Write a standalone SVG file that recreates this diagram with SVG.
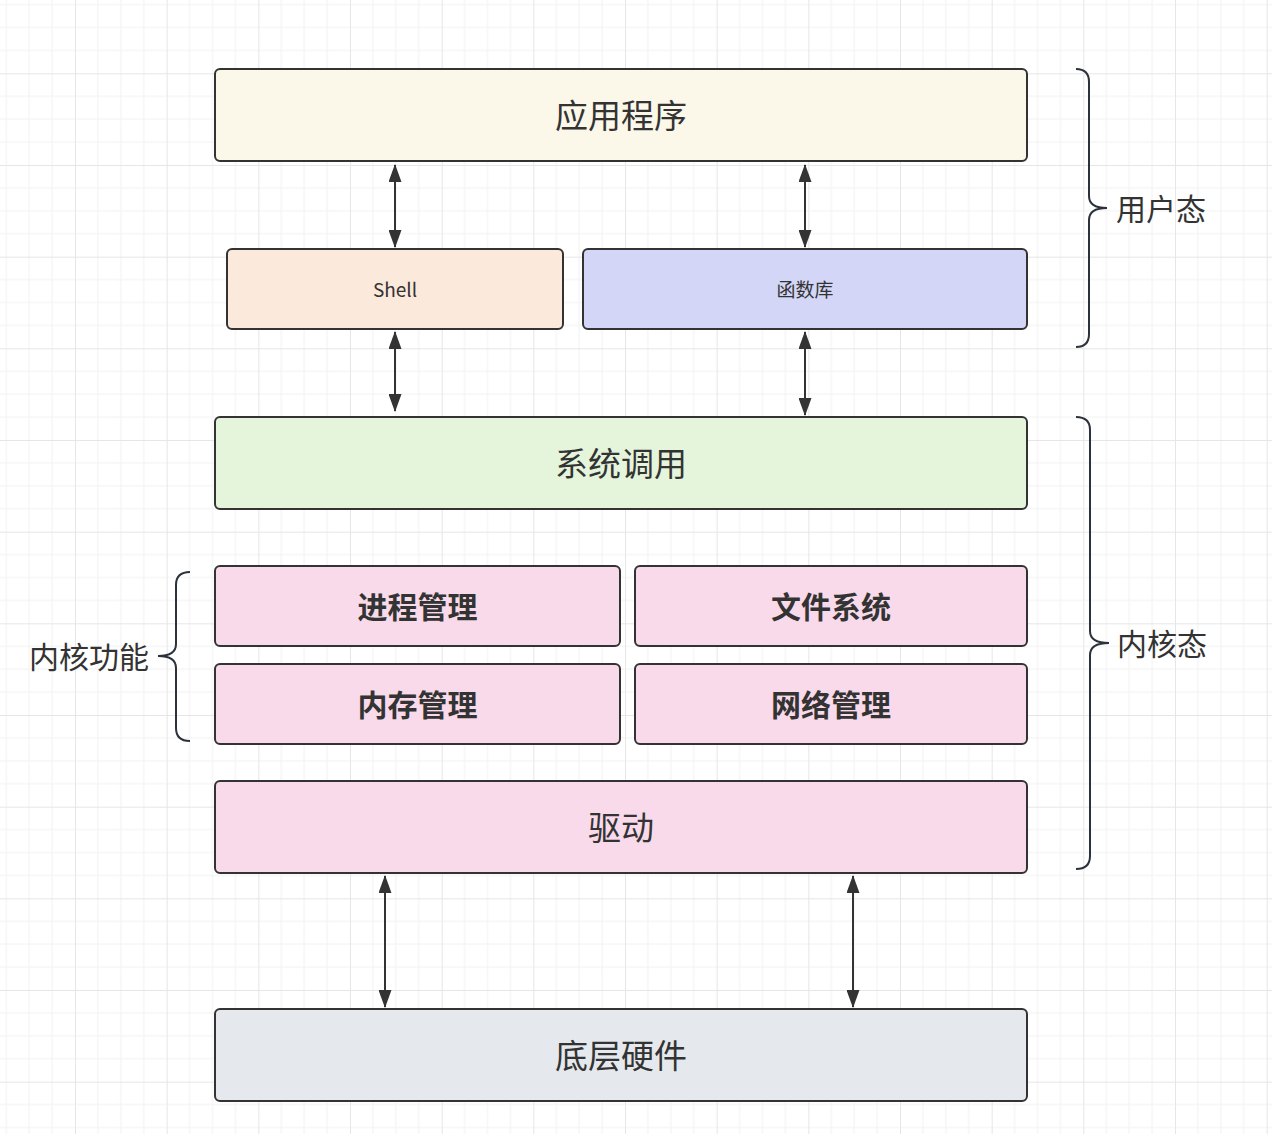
<svg xmlns="http://www.w3.org/2000/svg" width="1272" height="1134" viewBox="0 0 1272 1134">
<defs>
<pattern id="grid" patternUnits="userSpaceOnUse" x="75" y="73.33" width="91.667" height="91.667">
<path d="M22.917 0V91.667M45.833 0V91.667M68.75 0V91.667M0 22.917H91.667M0 45.833H91.667M0 68.75H91.667" stroke="#f2f2f2" stroke-width="1" fill="none"/>
<path d="M0.5 0V91.667M0 0.5H91.667" stroke="#e6e6e6" stroke-width="1" fill="none"/>
</pattern>
<marker id="ah" viewBox="0 0 18 13" refX="17" refY="6.5" markerWidth="18" markerHeight="13" markerUnits="userSpaceOnUse" orient="auto-start-reverse">
<path d="M0 0L18 6.5L0 13Z" fill="#333"/>
</marker>
<style>
.box{stroke:#333;stroke-width:2}
.t{font-family:"Noto Sans CJK SC","Noto Sans",sans-serif;fill:#333;dominant-baseline:central}
.c{text-anchor:middle}
.s{text-anchor:start}
.e{text-anchor:end}
.big{font-size:33px}
.bold{font-size:30px;font-weight:bold}
.sm{font-size:19px}
.side{font-size:30px}
.conn{stroke:#333;stroke-width:2;fill:none}
.brace{stroke:#2b323b;stroke-width:2;fill:none}
</style>
</defs>
<rect width="1272" height="1134" fill="#ffffff"/>
<rect width="1272" height="1134" fill="url(#grid)"/>

<g id="app"><rect class="box" x="215" y="69" width="812" height="92" rx="5" fill="#fbf7e9"/><text class="t c big" x="621" y="114">应用程序</text></g>
<g id="shell"><rect class="box" x="227" y="249" width="336" height="80" rx="5" fill="#fbe9db"/><text class="t c sm" x="395" y="288">Shell</text></g>
<g id="lib"><rect class="box" x="583" y="249" width="444" height="80" rx="5" fill="#d3d6f7"/><text class="t c sm" x="805" y="288">函数库</text></g>
<g id="syscall"><rect class="box" x="215" y="417" width="812" height="92" rx="5" fill="#e4f5db"/><text class="t c big" x="621" y="462">系统调用</text></g>
<g id="proc"><rect class="box" x="215" y="566" width="405" height="80" rx="5" fill="#f9daea"/><text class="t c bold" x="417.5" y="605">进程管理</text></g>
<g id="fs"><rect class="box" x="635" y="566" width="392" height="80" rx="5" fill="#f9daea"/><text class="t c bold" x="831" y="605">文件系统</text></g>
<g id="mem"><rect class="box" x="215" y="664" width="405" height="80" rx="5" fill="#f9daea"/><text class="t c bold" x="417.5" y="703">内存管理</text></g>
<g id="net"><rect class="box" x="635" y="664" width="392" height="80" rx="5" fill="#f9daea"/><text class="t c bold" x="831" y="703">网络管理</text></g>
<g id="driver"><rect class="box" x="215" y="781" width="812" height="92" rx="5" fill="#f9daea"/><text class="t c big" x="621" y="826">驱动</text></g>
<g id="hw"><rect class="box" x="215" y="1009" width="812" height="92" rx="5" fill="#e5e9ed"/><text class="t c big" x="621" y="1054">底层硬件</text></g>

<g id="user-brace"><path class="brace" d="M1076 69Q1089 69 1089 82V196Q1089 208 1107 208Q1089 208 1089 220V334Q1089 347 1076 347"/><text class="t s side" x="1116" y="207">用户态</text></g>
<g id="kernel-brace"><path class="brace" d="M1076 417Q1090 417 1090 430V631Q1090 643 1109 643Q1090 643 1090 655V856Q1090 869 1076 869"/><text class="t s side" x="1117" y="642">内核态</text></g>
<g id="func-brace"><path class="brace" d="M190 572Q176 572 176 585V644Q176 656 158 656Q176 656 176 668V728Q176 741 190 741"/><text class="t e side" x="149" y="655">内核功能</text></g>

<g id="connectors">
<path class="conn" d="M395 165V247" marker-start="url(#ah)" marker-end="url(#ah)"/>
<path class="conn" d="M805 165V247" marker-start="url(#ah)" marker-end="url(#ah)"/>
<path class="conn" d="M395 332V411" marker-start="url(#ah)" marker-end="url(#ah)"/>
<path class="conn" d="M805 332V415" marker-start="url(#ah)" marker-end="url(#ah)"/>
<path class="conn" d="M385 876V1007" marker-start="url(#ah)" marker-end="url(#ah)"/>
<path class="conn" d="M853 876V1007" marker-start="url(#ah)" marker-end="url(#ah)"/>
</g>
</svg>
